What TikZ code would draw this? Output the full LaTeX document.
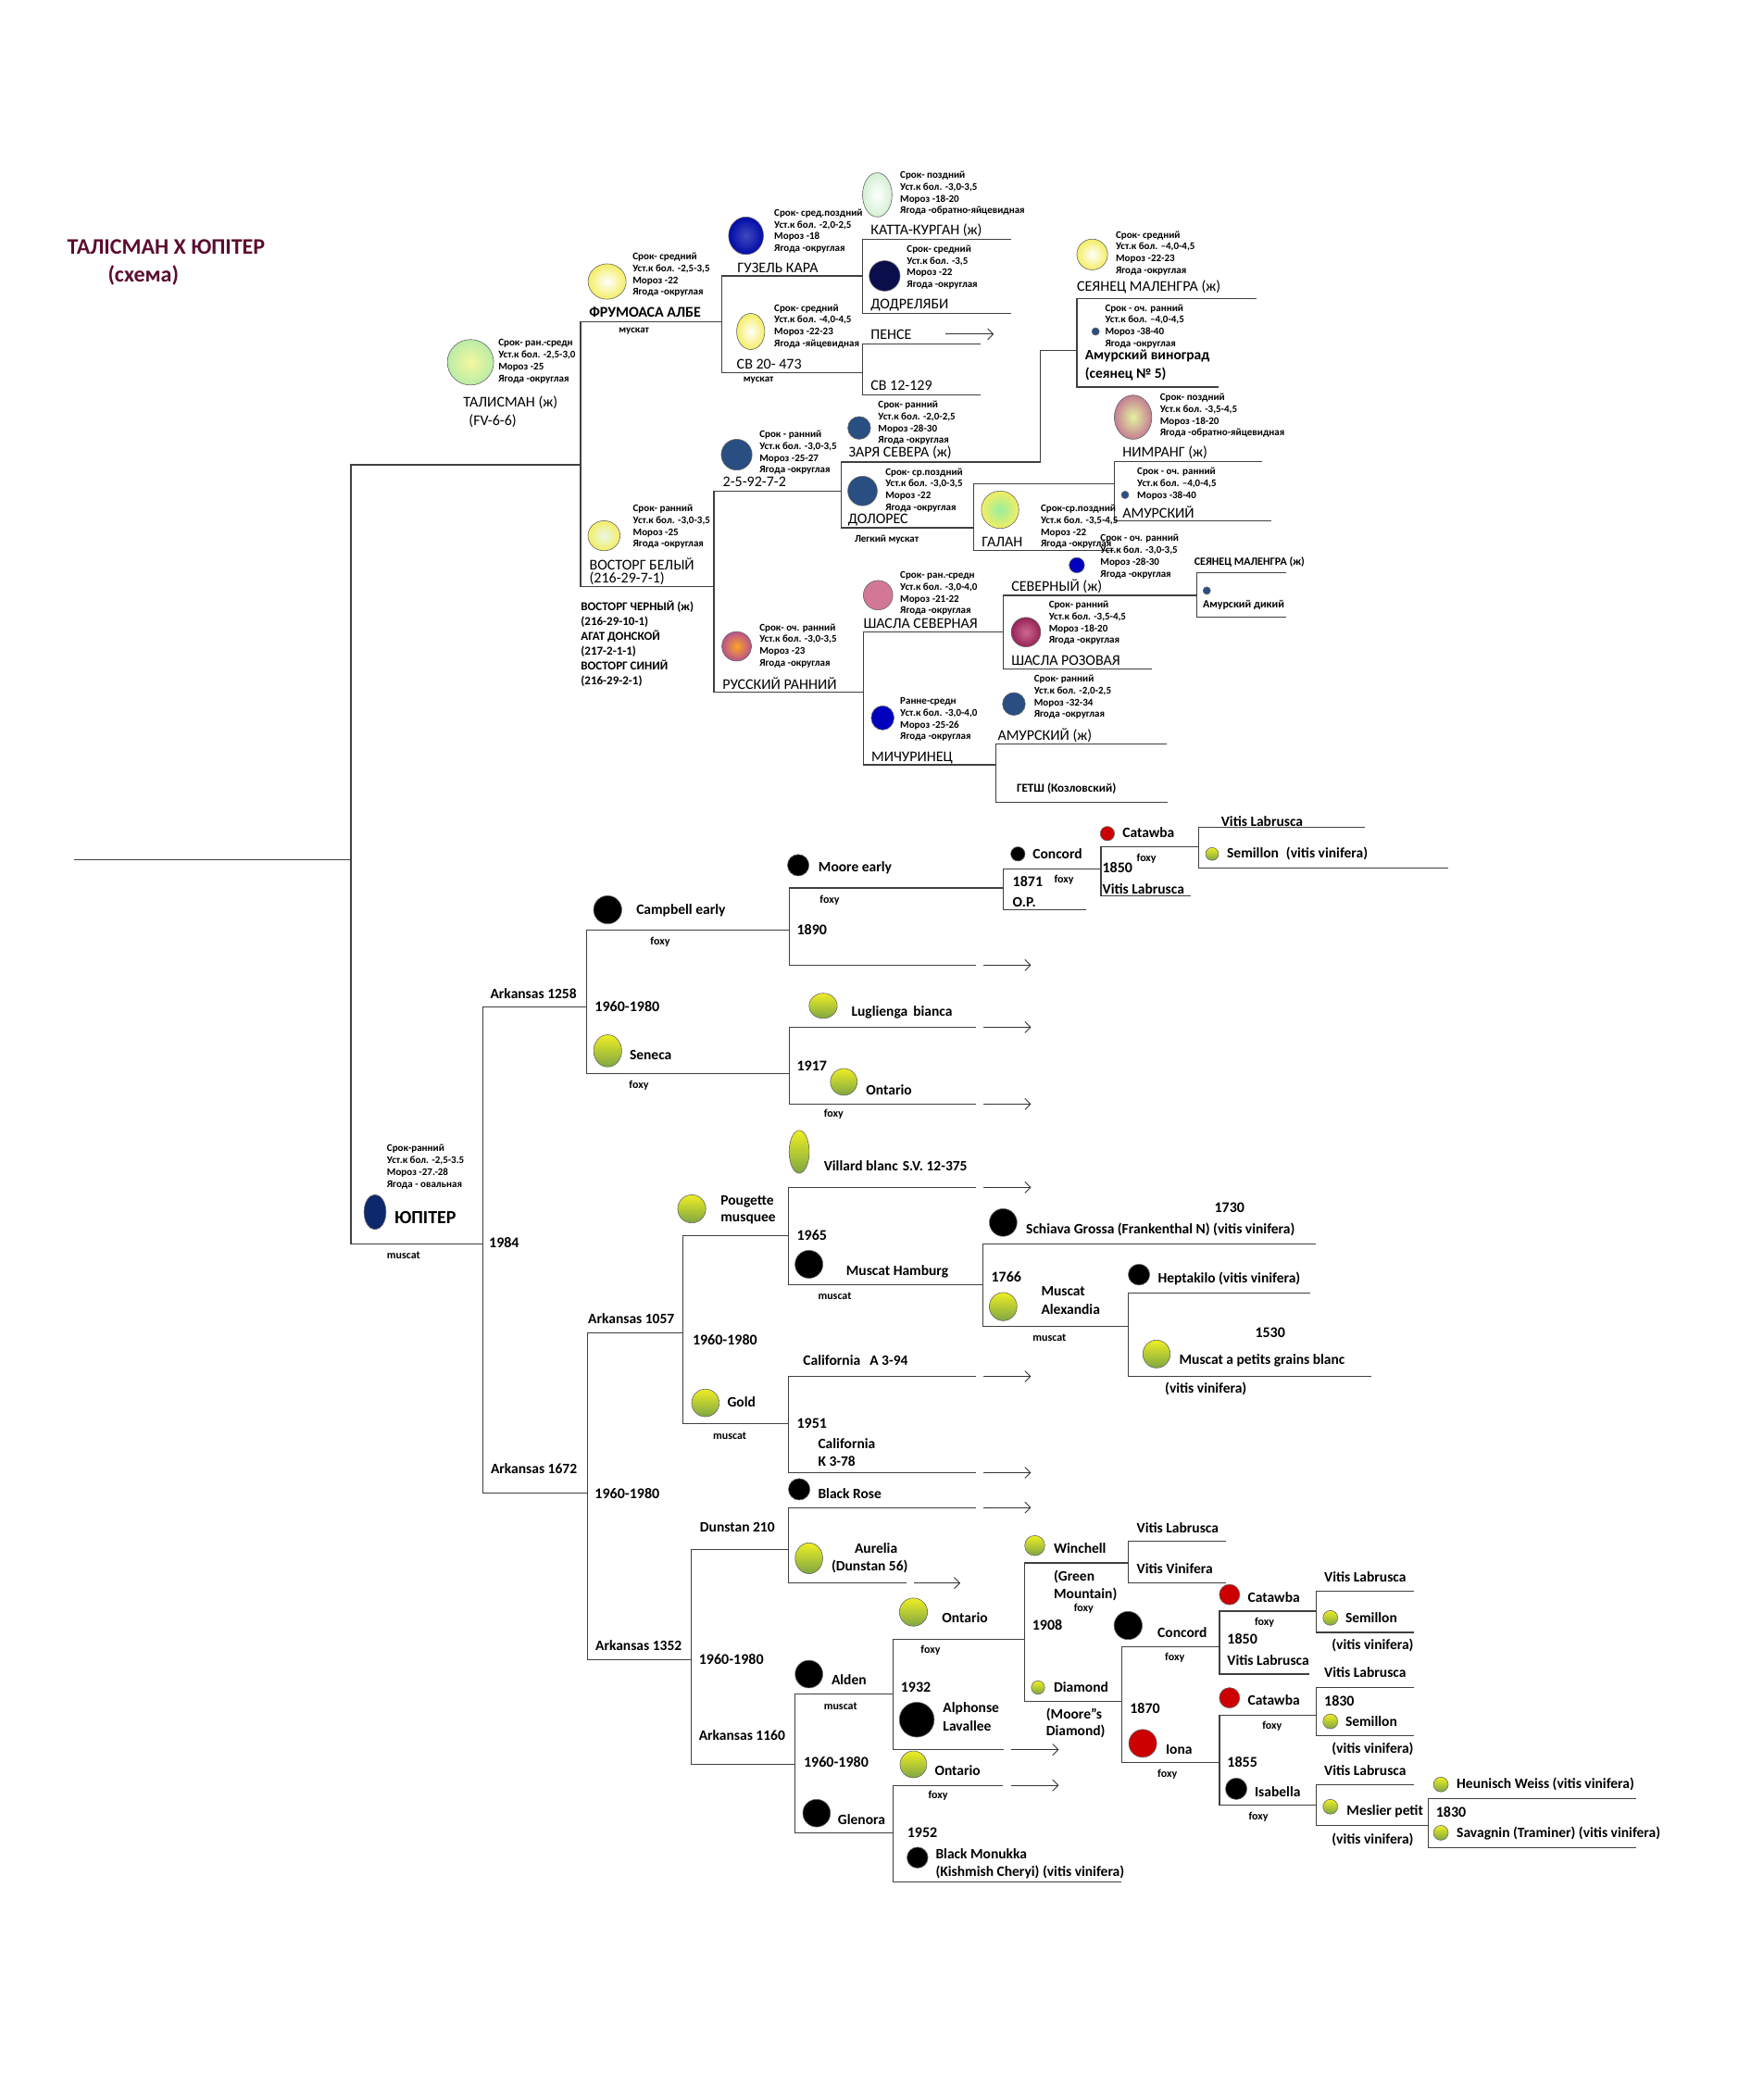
\documentclass[tikz,border=0pt]{standalone}
\usepackage{fontspec}
\setmainfont{Carlito}
\usetikzlibrary{arrows.meta, shapes.geometric}

\definecolor{titlewine}{RGB}{92,12,48}
\definecolor{ygtop}{RGB}{238,238,36}
\definecolor{ygbot}{RGB}{126,166,66}
\definecolor{palegreen}{RGB}{186,236,166}
\definecolor{paleyellow}{RGB}{244,248,160}
\definecolor{lemon}{RGB}{244,238,100}
\definecolor{mintwhite}{RGB}{212,240,212}
\definecolor{inkblue}{RGB}{0,12,168}
\definecolor{nightblue}{RGB}{10,14,74}
\definecolor{steelblue}{RGB}{40,78,130}
\definecolor{royalblue}{RGB}{0,0,190}
\definecolor{mauve}{RGB}{196,126,146}
\definecolor{limecore}{RGB}{228,242,160}
\definecolor{galancore}{RGB}{150,238,160}
\definecolor{rosepink}{RGB}{210,120,150}
\definecolor{winered}{RGB}{150,36,86}
\definecolor{winecore}{RGB}{206,104,146}
\definecolor{ambercore}{RGB}{252,164,40}
\definecolor{plumedge}{RGB}{184,82,140}
\definecolor{jupiterblue}{RGB}{14,40,108}
\definecolor{grapered}{RGB}{204,0,0}

\begin{document}
\begin{tikzpicture}[x=1.446pt, y=-1.446pt,
  ped/.style={line width=1.2pt, black!75},
  arr/.style={line width=0.9pt, black!80, -{Straight Barb[length=6pt,width=12pt]}},
  berry/.style 2 args={ellipse, draw=black!60, line width=0.6pt, inner sep=0pt,
    minimum width={2.892pt*#1}, minimum height={2.892pt*#2}},
  yg/.style={top color=ygtop, bottom color=ygbot},
  info/.style={anchor=west, align=left, inner sep=0pt, font=\fontsize{11}{12.7}\selectfont\bfseries},
  cv/.style={anchor=west, inner sep=0pt, font=\fontsize{16}{18}\selectfont},
  cvb/.style={anchor=west, inner sep=0pt, font=\fontsize{16}{18}\selectfont\bfseries},
  small/.style={anchor=west, inner sep=0pt, font=\fontsize{12}{14}\selectfont\bfseries},
  lbl/.style={anchor=west, inner sep=0pt, font=\fontsize{15.5}{18}\selectfont\bfseries},
  yr/.style={anchor=west, inner sep=0pt, font=\fontsize{16}{18}\selectfont\bfseries},
  tg/.style={anchor=west, inner sep=0pt, font=\fontsize{12}{14}\selectfont\bfseries}]

  \fill[white] (0,0) rectangle (1307,1568);
  \useasboundingbox (0,0) rectangle (1307,1568);

  % Title
  \node[font=\fontsize{24}{28}\selectfont\bfseries, text=titlewine, inner sep=0pt] (title) at (124,184.6) {ТАЛІСМАН Х ЮПІТЕР};
  \node[font=\fontsize{24}{28}\selectfont\bfseries, text=titlewine, inner sep=0pt] (subtitle) at (107,205.4) {(схема)};

  % Root and Talisman side
  \draw[ped] (55,642) -- (262,642);
  \draw[ped] (433.5,347) -- (262,347) -- (262,928.8) -- (360.3,928.8);
  \draw[ped] (539,240) -- (433.5,240) -- (433.5,438) -- (533,438);
  \draw[ped] (644,206) -- (539,206) -- (539,278) -- (644,278);
  \draw[ped] (755,178.5) -- (644,178.5) -- (644,234) -- (755,234);
  \draw[ped] (732,256.6) -- (644,256.6) -- (644,295) -- (732,295);
  \draw[arr] (706,249.5) -- (742,249.5);
  \draw[ped] (628,367) -- (533,367) -- (533,516.6) -- (644.6,516.6);
  \draw[ped] (777,345) -- (628,345) -- (628,394) -- (727,394);
  \draw[ped] (777,345) -- (777,261.5) -- (804,261.5);
  \draw[ped] (938,223) -- (804,223) -- (804,289) -- (909.5,289);
  \draw[ped] (832,361.5) -- (727,361.5) -- (727,411) -- (832,411);
  \draw[ped] (942.6,344.6) -- (832,344.6) -- (832,388.7) -- (949,388.7);
  \draw[ped] (749,471.6) -- (644.6,471.6) -- (644.6,571) -- (743.6,571);
  \draw[ped] (893.6,444.6) -- (749,444.6) -- (749,499.4) -- (860,499.4);
  \draw[ped] (960,427.6) -- (893.6,427.6) -- (893.6,461) -- (960,461);
  \draw[ped] (871,555.5) -- (743.6,555.5) -- (743.6,599) -- (871.6,599);

  % Talisman side: berries
  \node[berry={17.3}{17}, inner color=paleyellow, outer color=palegreen] (talisman) at (351.3,270.5) {};
  \node[berry={14.2}{13.2}, inner color=white, outer color=lemon] (frumoasa) at (453.3,210.2) {};
  \node[berry={13}{14}, inner color=inkblue!75, outer color=inkblue] (guzel) at (557,176) {};
  \node[berry={11}{16.5}, inner color=white, outer color=mintwhite] (katta) at (655,145.5) {};
  \node[berry={11.5}{11.3}, fill=nightblue] (dodr) at (660.5,206) {};
  \node[berry={10.5}{13.5}, inner color=white, outer color=lemon] (sv20) at (560.5,247.5) {};
  \node[berry={11.5}{11.5}, inner color=white, outer color=lemon] (seyan) at (815.5,190) {};
  \node[berry={2.8}{2.8}, fill=steelblue] (amurvin) at (818,247.5) {};
  \node[berry={14}{16.5}, inner color=limecore, outer color=mauve] (nimrang) at (846,311.5) {};
  \node[berry={2.8}{2.8}, fill=steelblue] (amursk) at (840,369.5) {};
  \node[berry={14}{14}, inner color=galancore, outer color=lemon] (galan) at (746.7,380.6) {};
  \node[berry={5.7}{5.7}, fill=royalblue] (severn) at (804,422) {};
  \node[berry={2.8}{2.8}, fill=steelblue] (amurdik) at (901,441) {};
  \node[berry={11}{11}, inner color=winecore, outer color=winered] (shaslaroz) at (766,472) {};
  \node[berry={8.5}{8.5}, fill=steelblue] (zarya) at (641.5,319.5) {};
  \node[berry={11.5}{11.5}, fill=steelblue] (n2592) at (550,339.5) {};
  \node[berry={11}{11}, fill=steelblue] (dolores) at (644,366.6) {};
  \node[berry={12}{11.2}, inner color=mintwhite!50!white, outer color=lemon] (vostorg) at (451,400) {};
  \node[berry={11}{11}, fill=rosepink] (shaslasev) at (655.6,444.4) {};
  \node[berry={11}{11}, inner color=ambercore, outer color=plumedge] (russkiy) at (550,482.6) {};
  \node[berry={8.5}{9}, fill=royalblue] (michur) at (659,536) {};
  \node[berry={8.5}{8.5}, fill=steelblue] (amurzh) at (757,525.6) {};

  % Talisman side: data
  \node[info] (talismanI) at (372,269.8) {Срок- ран.-средн\\Уст.к бол. -2,5-3,0\\Мороз -25\\Ягода -округлая};
  \node[info] (frumoasaI) at (472.3,205.2) {Срок- средний\\Уст.к бол. -2,5-3,5\\Мороз -22\\Ягода -округлая};
  \node[info] (guzelI) at (578,172.5) {Срок- сред.поздний\\Уст.к бол. -2,0-2,5\\Мороз -18\\Ягода -округлая};
  \node[info] (kattaI) at (672,144.5) {Срок- поздний\\Уст.к бол. -3,0-3,5\\Мороз -18-20\\Ягода -обратно-яйцевидная};
  \node[info] (dodrI) at (677,199.5) {Срок- средний\\Уст.к бол. -3,5\\Мороз -22\\Ягода -округлая};
  \node[info] (sv20I) at (578,243.5) {Срок- средний\\Уст.к бол. -4,0-4,5\\Мороз -22-23\\Ягода -яйцевидная};
  \node[info] (seyanI) at (833,189) {Срок- средний\\Уст.к бол. –4,0-4,5\\Мороз -22-23\\Ягода -округлая};
  \node[info] (amurvinI) at (825,243.5) {Срок - оч. ранний\\Уст.к бол. –4,0-4,5\\Мороз -38-40\\Ягода -округлая};
  \node[info] (nimrangI) at (866,310.3) {Срок- поздний\\Уст.к бол. -3,5-4,5\\Мороз -18-20\\Ягода -обратно-яйцевидная};
  \node[info] (amurskI) at (849,361.3) {Срок - оч. ранний\\Уст.к бол. –4,0-4,5\\Мороз -38-40};
  \node[info] (galanI) at (777,393.4) {Срок-ср.поздний\\Уст.к бол. -3,5-4,5\\Мороз -22\\Ягода -округлая};
  \node[info] (severnI) at (821.5,415.6) {Срок - оч. ранний\\Уст.к бол. -3,0-3,5\\Мороз -28-30\\Ягода -округлая};
  \node[info] (shaslarozI) at (783,465.3) {Срок- ранний\\Уст.к бол. -3,5-4,5\\Мороз -18-20\\Ягода -округлая};
  \node[info] (zaryaI) at (655.6,315.9) {Срок- ранний\\Уст.к бол. -2,0-2,5\\Мороз -28-30\\Ягода -округлая};
  \node[info] (n2592I) at (567,338) {Срок - ранний\\Уст.к бол. -3,0-3,5\\Мороз -25-27\\Ягода -округлая};
  \node[info] (doloresI) at (661,365.9) {Срок- ср.поздний\\Уст.к бол. -3,0-3,5\\Мороз -22\\Ягода -округлая};
  \node[info] (vostorgI) at (472.5,393.3) {Срок- ранний\\Уст.к бол. -3,0-3,5\\Мороз -25\\Ягода -округлая};
  \node[info] (shaslasevI) at (672,443.2) {Срок- ран.-средн\\Уст.к бол. -3,0-4,0\\Мороз -21-22\\Ягода -округлая};
  \node[info] (russkiyI) at (567,482) {Срок- оч. ранний\\Уст.к бол. -3,0-3,5\\Мороз -23\\Ягода -округлая};
  \node[info] (michurI) at (672,537.2) {Ранне-средн\\Уст.к бол. -3,0-4,0\\Мороз -25-26\\Ягода -округлая};
  \node[info] (amurzhI) at (772,520.5) {Срок- ранний\\Уст.к бол. -2,0-2,5\\Мороз -32-34\\Ягода -округлая};

  % Talisman side: names
  \node[cv] (talismanN) at (345.8,300.8) {ТАЛИСМАН (ж)};
  \node[cv] (talismanF) at (350,314.7) {(FV-6-6)};
  \node[cvb] (frumoasaN) at (439.8,233) {ФРУМОАСА АЛБЕ};
  \node[info] (frumoasaT) at (462,247.6) {мускат};
  \node[cv] (guzelN) at (550.5,200) {ГУЗЕЛЬ КАРА};
  \node[cv] (kattaN) at (650,172) {КАТТА-КУРГАН (ж)};
  \node[cv] (dodrN) at (650,227.5) {ДОДРЕЛЯБИ};
  \node[cv] (sv20N) at (550,272) {СВ 20- 473};
  \node[info] (sv20T) at (555,284) {мускат};
  \node[cv] (penseN) at (650,250) {ПЕНСЕ};
  \node[cv] (sv12N) at (650,288) {СВ 12-129};
  \node[cv] (seyanN) at (804,214) {СЕЯНЕЦ МАЛЕНГРА (ж)};
  \node[cvb, font=\fontsize{15.5}{18}\selectfont\bfseries] (amurvinN) at (810,265.6) {Амурский виноград};
  \node[cvb, font=\fontsize{15.5}{18}\selectfont\bfseries] (amurvinS) at (810,279) {(сеянец № 5)};
  \node[cv] (nimrangN) at (838,338) {НИМРАНГ (ж)};
  \node[cv] (amurskN) at (838,382.6) {АМУРСКИЙ};
  \node[cv] (galanN) at (733,404.6) {ГАЛАН};
  \node[cv] (severnN) at (755,438) {СЕВЕРНЫЙ (ж)};
  \node[small] (seyanB) at (891.6,419.6) {СЕЯНЕЦ МАЛЕНГРА (ж)};
  \node[small] (amurdikN) at (898,452) {Амурский дикий};
  \node[cv] (shaslarozN) at (755,493) {ШАСЛА РОЗОВАЯ};
  \node[cv] (zaryaN) at (633.5,338) {ЗАРЯ СЕВЕРА (ж)};
  \node[cv] (n2592N) at (539.6,360) {2-5-92-7-2};
  \node[cv] (doloresN) at (633,388) {ДОЛОРЕС};
  \node[info] (doloresT) at (638,402.6) {Легкий мускат};
  \node[cv] (vostorgN) at (440,421) {ВОСТОРГ БЕЛЫЙ};
  \node[cv] (vostorgC) at (440,431.6) {(216-29-7-1)};
  \node[anchor=west, align=left, inner sep=0pt, font=\fontsize{13}{15.9}\selectfont\bfseries] (vostorgKin) at (433.6,480.5)
    {ВОСТОРГ ЧЕРНЫЙ (ж)\\(216-29-10-1)\\АГАТ ДОНСКОЙ\\(217-2-1-1)\\ВОСТОРГ СИНИЙ\\(216-29-2-1)};
  \node[cv] (shaslasevN) at (644.6,465.6) {ШАСЛА СЕВЕРНАЯ};
  \node[cv] (russkiyN) at (539.4,510) {РУССКИЙ РАННИЙ};
  \node[cv] (michurN) at (650.5,565.6) {МИЧУРИНЕЦ};
  \node[cv] (amurzhN) at (744.8,548.7) {АМУРСКИЙ (ж)};
  \node[small, font=\fontsize{13}{15}\selectfont\bfseries] (getshN) at (759,589) {ГЕТШ (Козловский)};

  % Jupiter side: Arkansas 1258
  \draw[ped] (437.8,751.8) -- (360.3,751.8) -- (360.3,1114.7) -- (438.5,1114.7);
  \draw[ped] (589.6,694.6) -- (437.8,694.6) -- (437.8,801.6) -- (589.6,801.6);
  \draw[ped] (749,663) -- (589.6,663) -- (589.6,720.6) -- (729,720.6);
  \draw[ped] (822,648.6) -- (749,648.6) -- (749,679) -- (811,679);
  \draw[ped] (895,632) -- (822,632) -- (822,668.8) -- (889,668.8);
  \draw[ped] (1019,617.6) -- (895,617.6) -- (895,648) -- (1081.6,648);
  \draw[ped] (729,767) -- (589.6,767) -- (589.6,824.3) -- (729,824.3);
  \draw[arr] (734.4,720.6) -- (769.8,720.6);
  \draw[arr] (734.4,767) -- (769.8,767);
  \draw[arr] (734.4,824.3) -- (769.8,824.3);

  % Jupiter side: Arkansas 1672
  \draw[ped] (509.7,995) -- (438.5,995) -- (438.5,1239.3) -- (516,1239.3);
  \draw[ped] (588.6,922.6) -- (509.7,922.6) -- (509.7,1063) -- (588.6,1063);
  \draw[ped] (729,886.6) -- (588.6,886.6) -- (588.6,959.4) -- (734,959.4);
  \draw[ped] (982.7,928.8) -- (734,928.8) -- (734,990.4) -- (842.3,990.4);
  \draw[ped] (978,965.6) -- (842.3,965.6) -- (842.3,1027.7) -- (1023.6,1027.7);
  \draw[ped] (729,1027.7) -- (588.6,1027.7) -- (588.6,1099.6) -- (729,1099.6);
  \draw[arr] (734.4,886.6) -- (769.8,886.6);
  \draw[arr] (734.4,1027.7) -- (769.8,1027.7);
  \draw[arr] (734.4,1099.6) -- (769.8,1099.6);
  \draw[ped] (588.8,1156.8) -- (516,1156.8) -- (516,1317.4) -- (593.7,1317.4);
  \draw[ped] (728.6,1125.6) -- (588.8,1125.6) -- (588.8,1182) -- (677,1182);
  \draw[arr] (734.4,1125.6) -- (769.8,1125.6);
  \draw[arr] (682.6,1182) -- (717,1182);
  \draw[ped] (666.7,1264.8) -- (593.7,1264.8) -- (593.7,1368.6) -- (666.7,1368.6);
  \draw[ped] (765,1224) -- (666.7,1224) -- (666.7,1306.4) -- (749.2,1306.4);
  \draw[arr] (755,1306.4) -- (790.5,1306.4);
  \draw[ped] (842.2,1167) -- (765,1167) -- (765,1270.6) -- (837.7,1270.6);
  \draw[ped] (915.3,1151) -- (842.2,1151) -- (842.2,1182) -- (915.3,1182);
  \draw[ped] (910.5,1229.4) -- (837.7,1229.4) -- (837.7,1316) -- (910.5,1316);
  \draw[ped] (982.6,1202.9) -- (910.5,1202.9) -- (910.5,1250) -- (977.5,1250);
  \draw[ped] (1055.7,1187.9) -- (982.6,1187.9) -- (982.6,1218.8) -- (1055.7,1218.8);
  \draw[ped] (982.6,1280.5) -- (910.5,1280.5) -- (910.5,1348) -- (982.6,1348);
  \draw[ped] (1055.7,1259.8) -- (982.6,1259.8) -- (982.6,1296) -- (1055.7,1296);
  \draw[ped] (1055.7,1332.4) -- (982.6,1332.4) -- (982.6,1363) -- (1066.4,1363);
  \draw[ped] (1221.6,1342.8) -- (1066.4,1342.8) -- (1066.4,1379.6) -- (1221.6,1379.6);
  \draw[ped] (749,1333) -- (666.7,1333) -- (666.7,1405) -- (837.3,1405);
  \draw[arr] (755,1333) -- (790.5,1333);

  % Jupiter side: berries
  \node[berry={8.2}{13}, fill=jupiterblue] (jupiter) at (280,905) {};
  \node[berry={8}{8}, fill=black] (moore) at (596,646) {};
  \node[berry={5.3}{5.3}, fill=black] (concordA) at (760,637.6) {};
  \node[berry={5.3}{5.3}, fill=grapered] (catawbaA) at (826.8,622.4) {};
  \node[berry={4.8}{4.8}, yg] (semillonA) at (905,637.6) {};
  \node[berry={10.5}{10.5}, fill=black] (campbell) at (453.7,679.3) {};
  \node[berry={10.5}{12}, yg] (seneca) at (453.7,784.6) {};
  \node[berry={10.5}{9.4}, yg] (luglienga) at (614.6,751) {};
  \node[berry={10}{10}, yg] (ontarioA) at (630,807.8) {};
  \node[berry={7.5}{16}, yg] (villard) at (596.7,860) {};
  \node[berry={10.5}{10.5}, yg] (pougette) at (516.5,902.6) {};
  \node[berry={10.4}{10.4}, fill=black] (hamburg) at (604,944) {};
  \node[berry={10.3}{10.3}, fill=black] (schiava) at (749,912.8) {};
  \node[berry={10.3}{10.5}, yg] (alexandria) at (749,975.6) {};
  \node[berry={8}{7.8}, fill=black] (heptakilo) at (850.4,951.7) {};
  \node[berry={10.2}{10.4}, yg] (petits) at (863.5,1011) {};
  \node[berry={10.3}{10.3}, yg] (gold) at (526.7,1047.5) {};
  \node[berry={8}{8}, fill=black] (blackrose) at (596.7,1112) {};
  \node[berry={10.3}{11.5}, yg] (aurelia) at (604,1163.5) {};
  \node[berry={10.3}{10.3}, fill=black] (alden) at (604,1250) {};
  \node[berry={10.5}{10.5}, yg] (ontarioB) at (682,1203.7) {};
  \node[berry={13}{13}, fill=black] (alphonse) at (684.5,1284) {};
  \node[berry={7.5}{7.5}, yg] (winchell) at (772.6,1154) {};
  \node[berry={5}{5}, yg] (diamond) at (775,1260) {};
  \node[berry={10.5}{10.5}, fill=black] (concordB) at (842.3,1213.7) {};
  \node[berry={10.4}{10.4}, fill=grapered] (iona) at (853.2,1301.7) {};
  \node[berry={7.6}{7.6}, fill=grapered] (catawbaB) at (918,1190.6) {};
  \node[berry={5.5}{5.5}, yg] (semillonB) at (993.3,1208) {};
  \node[berry={7.6}{7.6}, fill=grapered] (catawbaC) at (918,1267.7) {};
  \node[berry={5.5}{5.5}, yg] (semillonC) at (993.3,1285.3) {};
  \node[berry={8}{8}, fill=black] (isabella) at (923,1335.6) {};
  \node[berry={5.5}{5.5}, yg] (meslier) at (993.3,1349) {};
  \node[berry={5.5}{5.5}, yg] (heunisch) at (1075.8,1332.4) {};
  \node[berry={5.5}{5.5}, yg] (savagnin) at (1075.8,1368.5) {};
  \node[berry={10}{10}, yg] (ontarioC) at (682,1317.4) {};
  \node[berry={10.3}{10.3}, fill=black] (glenora) at (609.7,1353.8) {};
  \node[berry={7.8}{7.8}, fill=black] (monukka) at (685,1387) {};

  % Jupiter side: labels
  \node[info] (jupiterI) at (288.8,871.2) {Срок-ранний\\Уст.к бол. -2,5-3.5\\Мороз -27.-28\\Ягода - овальная};
  \node[anchor=west, inner sep=0pt, font=\fontsize{20}{22}\selectfont\bfseries] (jupiterN) at (294.4,909.4) {ЮПІТЕР};
  \node[tg] (jupiterT) at (288.8,937) {muscat};
  \node[yr] (jupiterY) at (365,928) {1984};
  \node[lbl] (mooreL) at (611,648) {Moore early};
  \node[tg] (mooreT) at (612,672) {foxy};
  \node[lbl] (concordAL) at (771,637.6) {Concord};
  \node[yr] (concordAY) at (756,658) {1871};
  \node[tg] (concordAT) at (787,657) {foxy};
  \node[lbl] (concordAO) at (756,674) {O.P.};
  \node[lbl] (catawbaAL) at (838,621.7) {Catawba};
  \node[yr] (catawbaAY) at (823,648) {1850};
  \node[tg] (catawbaAT) at (848.6,641) {foxy};
  \node[lbl] (catawbaAV) at (823,663.5) {Vitis Labrusca};
  \node[lbl] (labruscaA) at (911.6,613) {Vitis Labrusca};
  \node[lbl] (semillonAL) at (916,637.6) {Semillon\hspace{8pt}(vitis vinifera)};
  \node[lbl] (campbellL) at (475,679.6) {Campbell early};
  \node[tg] (campbellT) at (485.5,703) {foxy};
  \node[yr] (campbellY) at (594.8,694.3) {1890};
  \node[lbl] (ark1258) at (366,741.6) {Arkansas 1258};
  \node[yr] (ark1258Y) at (444,751.6) {1960-1980};
  \node[lbl] (senecaL) at (470,787.8) {Seneca};
  \node[tg] (senecaT) at (469.6,810.6) {foxy};
  \node[lbl] (lugliengaL) at (635.6,756) {Luglienga\hspace{6pt}bianca};
  \node[yr] (ontarioAY) at (594.8,796) {1917};
  \node[lbl] (ontarioAL) at (646.6,814) {Ontario};
  \node[tg] (ontarioAT) at (615,831.6) {foxy};
  \node[lbl] (villardL) at (615,870.7) {Villard blanc\hspace{5pt}S.V. 12-375};
  \node[lbl] (pougetteL) at (538,897) {Pougette};
  \node[lbl] (pougetteM) at (538,910.6) {musquee};
  \node[yr] (hamburgY) at (594.8,922.4) {1965};
  \node[lbl] (hamburgL) at (631.7,949.4) {Muscat Hamburg};
  \node[tg] (hamburgT) at (610.7,968) {muscat};
  \node[yr] (schiavaY) at (906.6,901.8) {1730};
  \node[lbl] (schiavaL) at (766,918) {Schiava Grossa (Frankenthal N) (vitis vinifera)};
  \node[yr] (alexandriaY) at (740,953.7) {1766};
  \node[lbl] (alexandriaL) at (777.3,964) {Muscat};
  \node[lbl] (alexandriaM) at (777.3,977.4) {Alexandia};
  \node[tg] (alexandriaT) at (771,999) {muscat};
  \node[lbl] (heptakiloL) at (864.4,954.4) {Heptakilo (vitis vinifera)};
  \node[yr] (petitsY) at (937,995.2) {1530};
  \node[lbl] (petitsL) at (880.4,1016) {Muscat a petits grains blanc};
  \node[lbl] (petitsV) at (869.7,1036.7) {(vitis vinifera)};
  \node[lbl] (ark1057) at (439,984.8) {Arkansas 1057};
  \node[yr] (ark1057Y) at (517,1000.6) {1960-1980};
  \node[lbl] (goldL) at (543,1047) {Gold};
  \node[tg] (goldT) at (532.3,1072) {muscat};
  \node[lbl] (califA) at (599.6,1016) {California\hspace{10pt}A 3-94};
  \node[yr] (califKY) at (594.8,1063) {1951};
  \node[lbl] (califK) at (610.7,1078) {California};
  \node[lbl] (califKn) at (610.7,1091) {K 3-78};
  \node[lbl] (ark1672) at (366.3,1096.8) {Arkansas 1672};
  \node[yr] (ark1672Y) at (444,1115) {1960-1980};
  \node[lbl] (blackroseL) at (610.7,1115) {Black Rose};
  \node[lbl] (dunstan210) at (522.5,1140.6) {Dunstan 210};
  \node[lbl] (aureliaL) at (638,1156) {Aurelia};
  \node[lbl] (aureliaD) at (620.7,1169.5) {(Dunstan 56)};
  \node[lbl] (ark1352) at (444.5,1228.7) {Arkansas 1352};
  \node[yr] (ark1352Y) at (521.7,1239) {1960-1980};
  \node[lbl] (ark1160) at (521.7,1296) {Arkansas 1160};
  \node[yr] (ark1160Y) at (600,1316) {1960-1980};
  \node[lbl] (aldenL) at (620.7,1254.5) {Alden};
  \node[tg] (aldenT) at (615,1274) {muscat};
  \node[lbl] (ontarioBL) at (703.3,1208) {Ontario};
  \node[tg] (ontarioBT) at (687.4,1232) {foxy};
  \node[yr] (alphonseY) at (672.4,1259.8) {1932};
  \node[lbl] (alphonseL) at (704,1275.5) {Alphonse};
  \node[lbl] (alphonseM) at (704,1288.5) {Lavallee};
  \node[lbl] (winchellL) at (786.7,1156) {Winchell};
  \node[lbl] (winchellG) at (786.7,1177.5) {(Green};
  \node[lbl] (winchellM) at (786.7,1190.7) {Mountain)};
  \node[tg] (winchellT) at (801.7,1201) {foxy};
  \node[yr] (winchellY) at (770.6,1213) {1908};
  \node[lbl] (diamondL) at (786.7,1259.8) {Diamond};
  \node[lbl] (diamondM) at (781,1280.5) {(Moore”s};
  \node[lbl] (diamondD) at (781,1293) {Diamond)};
  \node[lbl] (labruscaB) at (848.6,1140.6) {Vitis Labrusca};
  \node[lbl] (viniferaB) at (848.6,1171.5) {Vitis Vinifera};
  \node[lbl] (concordBL) at (864.2,1218.8) {Concord};
  \node[tg] (concordBT) at (869.7,1238) {foxy};
  \node[yr] (ionaY) at (843.5,1275.3) {1870};
  \node[lbl] (ionaL) at (870.3,1306.4) {Iona};
  \node[tg] (ionaT) at (864.2,1325) {foxy};
  \node[lbl] (catawbaBL) at (931.6,1192.5) {Catawba};
  \node[tg] (catawbaBT) at (936.7,1211.4) {foxy};
  \node[yr] (catawbaBY) at (916.2,1223.4) {1850};
  \node[lbl] (catawbaBV) at (916.2,1239.5) {Vitis Labrusca};
  \node[lbl] (labruscaC) at (988.6,1177.3) {Vitis Labrusca};
  \node[lbl] (semillonBL) at (1004.4,1208) {Semillon};
  \node[lbl] (semillonBV) at (994.3,1228.7) {(vitis vinifera)};
  \node[lbl] (labruscaD) at (988.6,1248.7) {Vitis Labrusca};
  \node[lbl] (catawbaCL) at (931.6,1269.7) {Catawba};
  \node[tg] (catawbaCT) at (942.4,1289) {foxy};
  \node[yr] (semillonCY) at (988.6,1269.7) {1830};
  \node[lbl] (semillonCL) at (1004.4,1285.2) {Semillon};
  \node[lbl] (semillonCV) at (994.3,1306) {(vitis vinifera)};
  \node[yr] (isabellaY) at (916.2,1315.8) {1855};
  \node[lbl] (isabellaL) at (936.7,1337.5) {Isabella};
  \node[tg] (isabellaT) at (932.2,1356.6) {foxy};
  \node[lbl] (labruscaE) at (988.6,1321.6) {Vitis Labrusca};
  \node[lbl] (meslierL) at (1005.4,1352.7) {Meslier petit};
  \node[lbl] (meslierV) at (994.3,1373.5) {(vitis vinifera)};
  \node[lbl] (heunischL) at (1087.5,1332) {Heunisch Weiss (vitis vinifera)};
  \node[yr] (savagninY) at (1072,1352.7) {1830};
  \node[lbl] (savagninL) at (1087.5,1368.6) {Savagnin (Traminer) (vitis vinifera)};
  \node[lbl] (ontarioCL) at (697.8,1322) {Ontario};
  \node[tg] (ontarioCT) at (693,1341) {foxy};
  \node[lbl] (glenoraL) at (625.5,1358.4) {Glenora};
  \node[yr] (monukkaY) at (677.3,1368.6) {1952};
  \node[lbl] (monukkaL) at (698.5,1384.3) {Black Monukka};
  \node[lbl] (monukkaK) at (698.5,1397.7) {(Kishmish Cheryi) (vitis vinifera)};
\end{tikzpicture}
\end{document}
